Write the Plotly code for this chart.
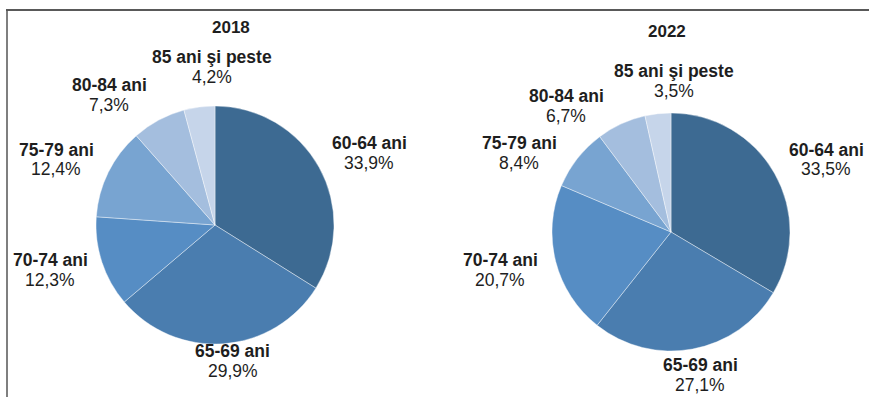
import plotly.graph_objects as go

W, H = 869, 397

categories = ["60-64 ani", "65-69 ani", "70-74 ani", "75-79 ani", "80-84 ani", "85 ani şi peste"]
values_2018 = [33.9, 29.9, 12.3, 12.4, 7.3, 4.2]
values_2022 = [33.5, 27.1, 20.7, 8.4, 6.7, 3.5]
years = ["2018", "2022"]

colors = ["#3d6a92", "#4a7daf", "#568dc4", "#78a4d1", "#a4bede", "#c6d5ea"]

def px(x):
    return x / W

def py(y):
    return 1 - y / H

fig = go.Figure()

# pie domains in pixels (x0, x1, ytop, ybottom)
domains = [(96, 334, 106, 344), (552, 790, 113, 351)]
for vals, (x0, x1, yt, yb), yr in zip([values_2018, values_2022], domains, years):
    fig.add_trace(go.Pie(
        labels=categories, values=vals, sort=False, direction="clockwise", rotation=0,
        marker=dict(colors=colors, line=dict(color="rgba(255,255,255,0.4)", width=1)),
        textinfo="none", hoverinfo="label+value", showlegend=False,
        domain=dict(x=[px(x0), px(x1)], y=[py(yb), py(yt)]), name=yr,
    ))

# label positions (pixel centers), per year, per category
label_pos = [
    [(369, 143), (233, 351), (50, 260), (56, 150), (109, 85), (212, 57)],
    [(826, 150), (700, 365), (500, 260), (519, 143), (566, 96), (674, 71)],
]
title_pos = [(231, 27), (667, 31)]

font_family = "Liberation Sans, Arial, sans-serif"
tcolor = "#1e1e1e"
anns = []
for vals, poss, yr, tp in zip([values_2018, values_2022], label_pos, years, title_pos):
    anns.append(dict(x=px(tp[0]), y=py(tp[1]), xref="paper", yref="paper", showarrow=False,
                     text="<b>" + yr + "</b>", xanchor="center", yanchor="middle",
                     font=dict(family=font_family, size=17, color=tcolor)))
    for cat, v, (x, y) in zip(categories, vals, poss):
        anns.append(dict(x=px(x), y=py(y), xref="paper", yref="paper", showarrow=False,
                         text="<b>" + cat + "</b>", xanchor="center", yanchor="middle",
                         font=dict(family=font_family, size=17.5, color=tcolor)))
        anns.append(dict(x=px(x), y=py(y + 19.5), xref="paper", yref="paper", showarrow=False,
                         text=(f"{v:.1f}".replace(".", ",") + "%"), xanchor="center", yanchor="middle",
                         font=dict(family=font_family, size=17.5, color=tcolor)))

shapes = [
    dict(type="line", xref="paper", yref="paper", x0=px(6), x1=1, y0=py(10), y1=py(10),
         line=dict(color="#222", width=1.5)),
    dict(type="line", xref="paper", yref="paper", x0=px(7), x1=px(7), y0=py(10), y1=0,
         line=dict(color="#555", width=1.5)),
]

fig.update_layout(
    width=W, height=H, margin=dict(l=0, r=0, t=0, b=0),
    paper_bgcolor="white", plot_bgcolor="white",
    annotations=anns, shapes=shapes,
)

fig.write_html("out.html")
